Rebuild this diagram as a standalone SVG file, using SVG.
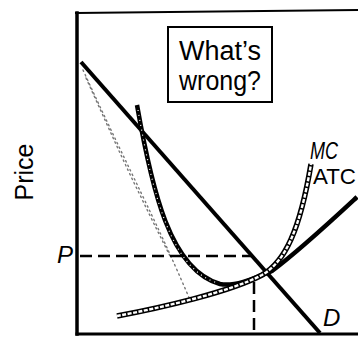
<svg xmlns="http://www.w3.org/2000/svg" width="358" height="338" viewBox="0 0 358 338">
<style>
.lbl{font-family:"Liberation Sans","DejaVu Sans",sans-serif;fill:#000}
.it{font-style:italic}
.axis{stroke:#000;fill:none;stroke-linecap:square}
.dash{stroke:#000;fill:none;stroke-width:2.5;stroke-dasharray:12 6}
.dot{stroke:#777;fill:none;stroke-width:1.4;stroke-dasharray:1.5 3.5;stroke-linecap:round}
</style>
<rect width="358" height="338" fill="#fff"/>
<g id="axes">
<line class="axis" x1="76" y1="13" x2="358" y2="10" stroke-width="2"/>
<line class="axis" x1="77" y1="13" x2="77" y2="334" stroke-width="3.5"/>
<line class="axis" x1="77" y1="334" x2="358" y2="334" stroke-width="3"/>
</g>
<g id="price-label"><text class="lbl" font-size="25" text-anchor="middle" transform="translate(33,172) rotate(-90)">Price</text></g>
<g id="question-box">
<rect x="168" y="27" width="104" height="75" fill="#fff" stroke="#000" stroke-width="2"/>
<text class="lbl" x="220" y="60" font-size="27" text-anchor="middle" textLength="82" lengthAdjust="spacingAndGlyphs">What’s</text>
<text class="lbl" x="220" y="90" font-size="27" text-anchor="middle" textLength="82" lengthAdjust="spacingAndGlyphs">wrong?</text>
</g>
<g id="connectors">
<path class="dot" d="M83,70 C115,140 150,210 168,250 C178,272 185,288 190,300"/>
<path class="dot" d="M86,78 C105,120 125,165 140,195 C152,220 162,240 170,256"/>
<path class="dash" d="M80,256 H252"/>
<path class="dash" d="M254,282 V333"/>
<line x1="81" y1="62" x2="320" y2="333" stroke="#000" stroke-width="4"/>
<path d="M137,105 C152,190 170,270 220,284 C235,287 255,278 272,271 C300,250 330,222 357,197" fill="none" stroke="#000" stroke-width="4.5"/>
<path d="M138,110 C152,190 170,270 218,283" fill="none" stroke="#fff" stroke-width="1.2" stroke-dasharray="1 4"/>
<path d="M117,316 C160,308 230,292 262,275 C285,262 300,230 311,164" fill="none" stroke="#000" stroke-width="5.5"/>
<path d="M117,316 C160,308 230,292 262,275 C285,262 300,230 311,164" fill="none" stroke="#fff" stroke-width="2.4" stroke-dasharray="4 1.5"/>
</g>
<g id="curve-labels">
<text class="lbl it" x="310" y="159" font-size="23" textLength="28" lengthAdjust="spacingAndGlyphs">MC</text>
<text class="lbl" x="313" y="184" font-size="22" textLength="43" lengthAdjust="spacingAndGlyphs">ATC</text>
<text class="lbl it" x="57" y="263" font-size="24">P</text>
<text class="lbl it" x="323" y="326" font-size="24">D</text>
</g>
</svg>
